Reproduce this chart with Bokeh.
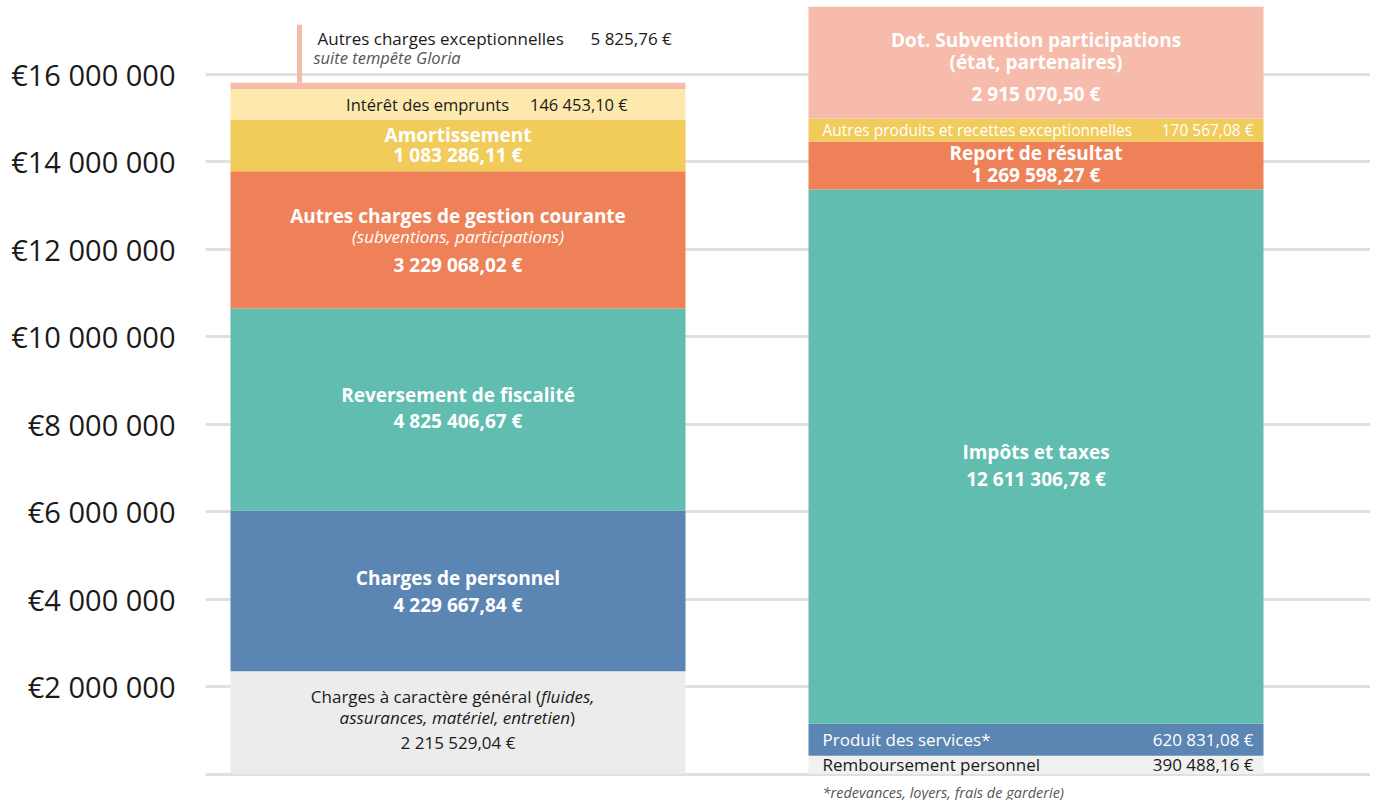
import numpy as np
from bokeh.plotting import figure
from bokeh.models import Range1d, FixedTicker
from bokeh.core.properties import value
from bokeh.embed import file_html
from bokeh.resources import INLINE

# ---------------- data ----------------
depenses_labels = ["Charges à caractère général", "Charges de personnel", "Reversement de fiscalité",
                   "Autres charges de gestion courante", "Amortissement", "Intérêt des emprunts",
                   "Autres charges exceptionnelles"]
depenses_montants = [2215529.04, 4229667.84, 4825406.67, 3229068.02, 1083286.11, 146453.10, 5825.76]
# segment heights as drawn against the axis in the picture
depenses_hauteurs = [2.35e6, 3.67e6, 4.62e6, 3.14e6, 1.18e6, 0.70e6, 0.14e6]

recettes_labels = ["Remboursement personnel", "Produit des services*", "Impôts et taxes",
                   "Report de résultat", "Autres produits et recettes exceptionnelles",
                   "Dot. Subvention participations"]
recettes_montants = [390488.16, 620831.08, 12611306.78, 1269598.27, 170567.08, 2915070.50]
recettes_hauteurs = [0.42e6, 0.73e6, 12.21e6, 1.10e6, 0.52e6, 2.56e6]

y_ticks = [0, 2000000, 4000000, 6000000, 8000000, 10000000, 12000000, 14000000, 16000000]

# ---------------- styles ----------------
dep_colors = ["#ececec", "#5b86b4", "#60bdb0", "#ef8158", "#f1cc5b", "#fde9ad", "#f7bbab"]
rec_colors = ["#f1f1ef", "#5b85b2", "#60bdb0", "#ef8158", "#f1cc5b", "#f7bbab"]
FONT = value("Open Sans")
DARK = "#1a1a1a"
GREY = "#555555"
BIG = 19


def eur(v):
    s = f"{v:,.2f}".replace(",", " ").replace(".", ",")
    return s + " €"


def tick_label(t):
    return "" if t == 0 else "€" + f"{t:,}".replace(",", " ")


W, H = 1370, 800
LEFT = 205
PX = 578.0                       # px per x unit
BW = 455 / PX
ZERO_PX, PX_PER_M = 773.5, 43.75
Y1 = ZERO_PX / PX_PER_M * 1e6
Y0 = -(H - ZERO_PX) / PX_PER_M * 1e6
YPX = H / (Y1 - Y0)              # px per data unit

p = figure(width=W, height=H, x_range=Range1d(-252.5 / PX, (W - LEFT - 252.5) / PX),
           y_range=Range1d(Y0, Y1), output_backend="svg", toolbar_location=None,
           x_axis_location=None, min_border_left=LEFT, min_border_right=0,
           min_border_top=0, min_border_bottom=0)
p.outline_line_color = None
p.background_fill_color = "white"
p.border_fill_color = "white"

ticker = FixedTicker(ticks=y_ticks)
p.yaxis.ticker = ticker
p.yaxis.major_label_overrides = {t: tick_label(t) for t in y_ticks}
p.yaxis.axis_line_color = None
p.yaxis.major_tick_line_color = None
p.yaxis.minor_tick_line_color = None
p.yaxis.major_tick_out = 0
p.yaxis.major_tick_in = 0
p.yaxis.major_label_standoff = 30
p.yaxis.major_label_text_font = "Open Sans"
p.yaxis.major_label_text_font_size = "29px"
p.yaxis.major_label_text_color = DARK
p.ygrid.ticker = ticker
p.ygrid.grid_line_color = "#e0e0e0"
p.ygrid.grid_line_width = 3
p.xgrid.visible = False


def stack(x, heights, colors):
    h = np.array(heights)
    tops = np.cumsum(h)
    bottoms = tops - h
    p.vbar(x=[x] * len(h), bottom=bottoms, top=tops, width=BW,
           fill_color=colors, line_color=None)
    return bottoms, tops


def t(x, y, s, size, color="white", style="bold", align="center", dx=0, dy=0):
    p.text(x=[x], y=[y], text=[s], text_font=FONT, text_font_size=f"{size}px",
           text_font_style=style, text_color=color, text_align=align,
           text_baseline="middle", x_offset=dx, y_offset=dy)


# ---------------- left bar: dépenses ----------------
xl = 0
b, tp = stack(xl, depenses_hauteurs, dep_colors)
c = (b + tp) / 2
L = depenses_labels
M = [eur(v) for v in depenses_montants]

# charges à caractère général
t(xl, c[0], L[0] + " (", 17, DARK, "normal", "right", dx=83, dy=-26)
t(xl, c[0], "fluides,", 17, DARK, "italic", "left", dx=83, dy=-26)
t(xl, c[0], "assurances, matériel, entretien", 17, DARK, "italic", "right", dx=112, dy=-5)
t(xl, c[0], ")", 17, DARK, "normal", "left", dx=112, dy=-5)
t(xl, c[0], M[0], 17, DARK, "normal", dy=20)
# personnel
t(xl, c[1], L[1], BIG, dy=-13)
t(xl, c[1], M[1], BIG, dy=14)
# reversement
t(xl, c[2], L[2], BIG, dy=-15)
t(xl, c[2], M[2], BIG, dy=11)
# autres charges de gestion courante
t(xl, c[3], L[3], BIG, dy=-24)
t(xl, c[3], "(subventions, participations)", 17, "white", "italic", dy=-3)
t(xl, c[3], M[3], BIG, dy=25)
# amortissement
t(xl, c[4], L[4], BIG, dy=-10)
t(xl, c[4], M[4], BIG, dy=10)
# intérêt des emprunts
t(xl, c[5], L[5], 16.5, DARK, "normal", "right", dx=51)
t(xl, c[5], M[5], 16.5, DARK, "normal", "left", dx=72)
# autres charges exceptionnelles (leader line + annotation)
lx = xl - BW / 2 + 69 / PX
p.segment(x0=[lx], y0=[tp[6]], x1=[lx], y1=[tp[6] + 58 / YPX], line_color=dep_colors[6], line_width=5)
t(xl - BW / 2, tp[6], L[6], 17, DARK, "normal", "left", dx=87, dy=-44)
t(xl - BW / 2, tp[6], M[6], 17, DARK, "normal", "left", dx=360, dy=-44)
t(xl - BW / 2, tp[6], "suite tempête Gloria", 16.5, GREY, "italic", "left", dx=83, dy=-25)

# ---------------- right bar: recettes ----------------
xr = 1
b, tp = stack(xr, recettes_hauteurs, rec_colors)
c = (b + tp) / 2
L = recettes_labels
M = [eur(v) for v in recettes_montants]
xa, xb = xr - BW / 2, xr + BW / 2

t(xa, c[0], L[0], 17, DARK, "normal", "left", dx=14)
t(xb, c[0], M[0], 17, DARK, "normal", "right", dx=-10)
t(xa, c[1], L[1], 17, "white", "normal", "left", dx=14)
t(xb, c[1], M[1], 17, "white", "normal", "right", dx=-10)
t(xr, c[2], L[2], BIG, dy=-5)
t(xr, c[2], M[2], BIG, dy=22)
t(xr, c[3], L[3], BIG, dy=-12)
t(xr, c[3], M[3], BIG, dy=10)
t(xa, c[4], L[4], 15.5, "white", "normal", "left", dx=14)
t(xb, c[4], M[4], 15.5, "white", "normal", "right", dx=-10)
t(xr, c[5], L[5], BIG, dy=-23)
t(xr, c[5], "(état, partenaires)", BIG, dy=-1)
t(xr, c[5], M[5], BIG, dy=31)
t(xa, 0, "*redevances, loyers, frais de garderie)", 14.5, GREY, "italic", "left", dx=14, dy=18)

open("out.html", "w").write(file_html(p, INLINE))
